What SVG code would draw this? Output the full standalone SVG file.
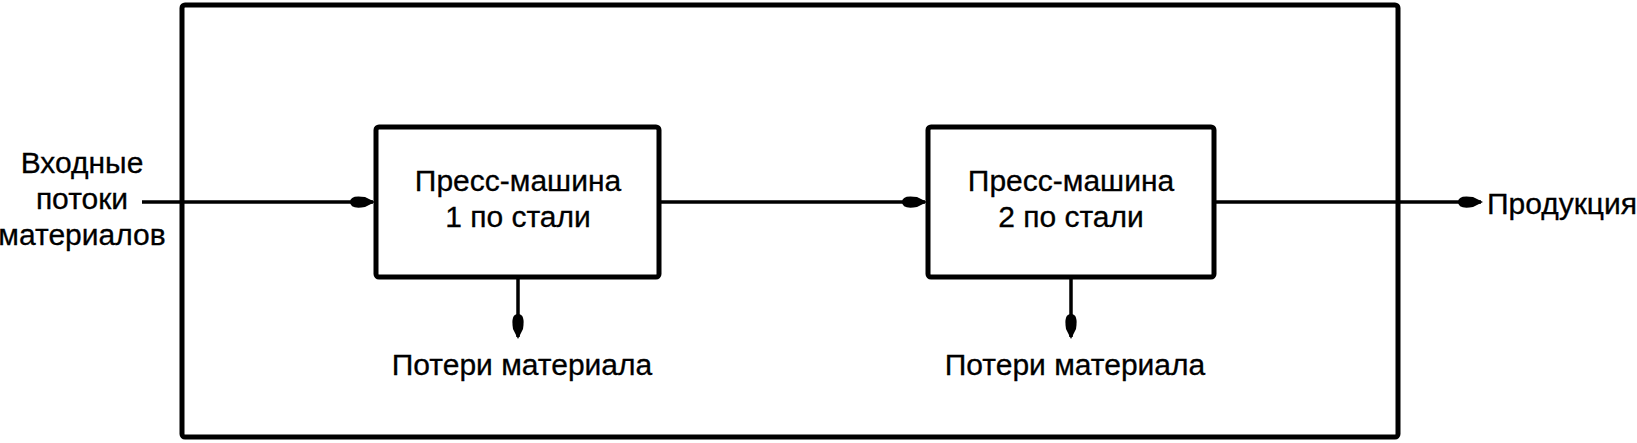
<svg xmlns="http://www.w3.org/2000/svg" width="1637" height="443" viewBox="0 0 1637 443">
<style>
.box{fill:#fff;stroke:#000;stroke-width:5}
.frame{fill:none;stroke:#000;stroke-width:5}
.ln{stroke:#000;stroke-width:3.5;fill:none}
text{font-family:"Liberation Sans",Arial,sans-serif;font-size:30px;fill:#000;text-anchor:middle;stroke:#000;stroke-width:0.3}
</style>
<defs>
<marker id="ah" viewBox="-26 -10 28 20" refX="0" refY="0" markerWidth="28" markerHeight="20" markerUnits="userSpaceOnUse" orient="auto">
<path d="M2,0 L-8,-5 Q-23,-7.5 -23,0 Q-23,7.5 -8,5 Z" fill="#000"/>
</marker>
</defs>
<rect class="frame" x="182" y="5" width="1216" height="432" rx="3"/>
<g id="connectors">
<line class="ln" x1="142" y1="202" x2="373" y2="202" marker-end="url(#ah)"/>
<line class="ln" x1="661" y1="202" x2="925" y2="202" marker-end="url(#ah)"/>
<line class="ln" x1="1216" y1="202" x2="1481" y2="202" marker-end="url(#ah)"/>
<line class="ln" x1="518" y1="279" x2="518" y2="337" marker-end="url(#ah)"/>
<line class="ln" x1="1071" y1="279" x2="1071" y2="337" marker-end="url(#ah)"/>
</g>
<g id="input">
<text x="82" y="173">Входные</text>
<text x="82" y="209">потоки</text>
<text x="82" y="245">материалов</text>
</g>
<g id="press1">
<rect class="box" x="376" y="127" width="283" height="150" rx="3"/>
<text x="518" y="191" font-size="31">Пресс-машина</text>
<text x="518" y="227" font-size="31">1 по стали</text>
</g>
<g id="press2">
<rect class="box" x="928" y="127" width="286" height="150" rx="3"/>
<text x="1071" y="191" font-size="31">Пресс-машина</text>
<text x="1071" y="227" font-size="31">2 по стали</text>
</g>
<g id="loss1"><text x="522" y="375">Потери материала</text></g>
<g id="loss2"><text x="1075" y="375">Потери материала</text></g>
<g id="output"><text x="1562" y="214">Продукция</text></g>
</svg>
